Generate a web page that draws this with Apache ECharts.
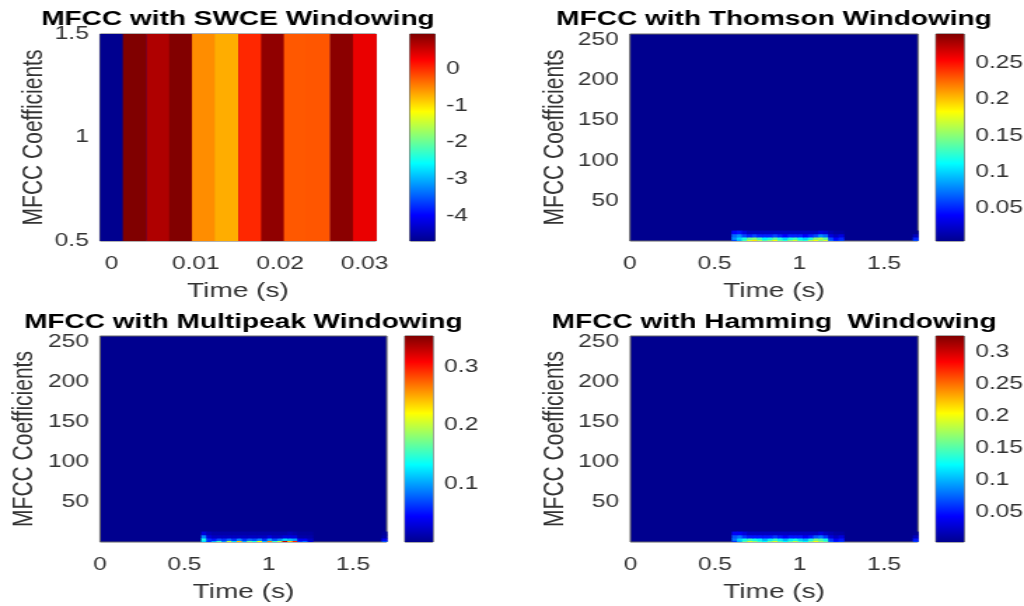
<!DOCTYPE html>
<html lang="en">
<head>
<meta charset="UTF-8">
<title>MFCC windowing</title>
<script src="https://cdn.jsdelivr.net/npm/echarts@6.0.0/dist/echarts.min.js"></script>
<style>
    body { margin: 0; padding: 0; background: #fff; overflow: hidden; }
    /* the reference figure is stretched sideways, so draw narrow and stretch */
    #main { width: 731px; height: 606px; transform-origin: 0 0; transform: scaleX(1.4008); }
</style>
</head>
<body>
<div id="main"></div>
<script>
// SWCE: a single coefficient row, 12 frames
var swceTimes = [0, 0.0027, 0.0055, 0.0082, 0.0109, 0.0136, 0.0164, 0.0191, 0.0218, 0.0245, 0.0273, 0.03];
var swceValues = [-4.68, 0.96, 0.70, 0.95, -0.52, -0.70, 0.04, 0.87, -0.23, -0.22, 0.90, 0.37];
var swceFrameWidth = 0.00273;
var swceLimits = [-4.68, 0.96];
var swceBarTicks = [-4, -3, -2, -1, 0];
var swceTimeTicks = [0, 0.01, 0.02, 0.03];
var swceCoefTicks = [0.5, 1, 1.5];

// other windows: only the frames / low coefficients that are not ~0
var frameTimes = [0.615, 0.645, 0.675, 0.705, 0.735, 0.765, 0.795, 0.825, 0.855, 0.885, 0.915,
    0.945, 0.975, 1.005, 1.035, 1.065, 1.095, 1.125, 1.155, 1.185, 1.215, 1.245, 1.685];
var frameWidth = 0.03;
var coefEdges = [0.5, 2.5, 5.5, 9.5, 13.5];   // coefficient bands 1-2, 3-5, 6-9, 10-13
var coefRange = [0.5, 257.5];
var timeRange = [0, 1.7];
var timeTicks = [0, 0.5, 1, 1.5];
var coefTicks = [50, 100, 150, 200, 250];

var thomsonBand1 = [0.06, 0.09, 0.13, 0.17, 0.19, 0.16, 0.13, 0.15, 0.18, 0.14, 0.12, 0.15, 0.17, 0.13, 0.12, 0.16, 0.18, 0.15, 0.17, 0.07, 0.05, 0.06, 0.06];
var thomsonBand2 = [0.08, 0.10, 0.12, 0.14, 0.15, 0.13, 0.11, 0.12, 0.14, 0.12, 0.10, 0.12, 0.13, 0.11, 0.10, 0.12, 0.15, 0.16, 0.14, 0.06, 0.04, 0.05, 0.05];
var thomsonBand3 = [0.07, 0.08, 0.06, 0.05, 0.06, 0.05, 0.05, 0.05, 0.06, 0.05, 0.04, 0.05, 0.05, 0.05, 0.04, 0.05, 0.06, 0.08, 0.07, 0.03, 0.02, 0.03, 0.02];
var thomsonBand4 = [0.04, 0.045, 0.03, 0.02, 0.02, 0.02, 0.02, 0.02, 0.02, 0.02, 0.02, 0.02, 0.02, 0.02, 0.02, 0.02, 0.02, 0.03, 0.025, 0.015, 0.01, 0.01, 0.005];
var thomsonLimits = [0.005, 0.29];
var thomsonBarTicks = [0.05, 0.1, 0.15, 0.2, 0.25];

var multipeakBand1 = [0.12, 0.06, 0.10, 0.16, 0.09, 0.20, 0.12, 0.24, 0.10, 0.18, 0.14, 0.22, 0.11, 0.26, 0.15, 0.20, 0.33, 0.24, 0.30, 0.06, 0.08, 0.03, 0.07];
var multipeakBand2 = [0.14, 0.06, 0.05, 0.07, 0.06, 0.08, 0.06, 0.09, 0.06, 0.08, 0.07, 0.09, 0.06, 0.10, 0.07, 0.09, 0.12, 0.11, 0.10, 0.04, 0.04, 0.02, 0.04];
var multipeakBand3 = [0.09, 0.03, 0.02, 0.02, 0.02, 0.02, 0.02, 0.02, 0.02, 0.02, 0.02, 0.02, 0.02, 0.03, 0.02, 0.02, 0.03, 0.03, 0.03, 0.01, 0.01, 0.01, 0.01];
var multipeakBand4 = [0.03, 0.015, 0.01, 0.01, 0.01, 0.01, 0.01, 0.01, 0.01, 0.01, 0.01, 0.01, 0.01, 0.01, 0.01, 0.01, 0.01, 0.015, 0.01, 0.005, 0.005, 0.005, 0.005];
var multipeakLimits = [0, 0.354];
var multipeakBarTicks = [0.1, 0.2, 0.3];

var hammingBand1 = [0.06, 0.10, 0.15, 0.19, 0.17, 0.14, 0.12, 0.16, 0.19, 0.15, 0.12, 0.15, 0.18, 0.14, 0.12, 0.16, 0.20, 0.17, 0.15, 0.07, 0.05, 0.06, 0.06];
var hammingBand2 = [0.08, 0.11, 0.13, 0.14, 0.13, 0.12, 0.10, 0.12, 0.14, 0.12, 0.10, 0.12, 0.13, 0.11, 0.10, 0.13, 0.16, 0.15, 0.13, 0.06, 0.04, 0.05, 0.05];
var hammingBand3 = [0.07, 0.08, 0.06, 0.05, 0.05, 0.05, 0.05, 0.05, 0.06, 0.05, 0.04, 0.05, 0.05, 0.05, 0.04, 0.05, 0.07, 0.08, 0.06, 0.03, 0.02, 0.03, 0.02];
var hammingBand4 = [0.04, 0.04, 0.03, 0.02, 0.02, 0.02, 0.02, 0.02, 0.02, 0.02, 0.02, 0.02, 0.02, 0.02, 0.02, 0.02, 0.02, 0.03, 0.02, 0.015, 0.01, 0.01, 0.005];
var hammingLimits = [0.003, 0.325];
var hammingBarTicks = [0.05, 0.1, 0.15, 0.2, 0.25, 0.3];

var titles = ['MFCC with SWCE Windowing', 'MFCC with Thomson Windowing',
    'MFCC with Multipeak Windowing', 'MFCC with Hamming  Windowing'];

var jet = ['#00008f', '#0000ff', '#0080ff', '#00ffff', '#80ff80', '#ffff00', '#ff8000', '#ff0000', '#800000'];
var font = 'Liberation Sans, Arial, Helvetica, sans-serif';

// cell = [t0, t1, c0, c1, value]
function swceCells() {
    return swceTimes.map(function (t, i) {
        return [t - swceFrameWidth / 2, t + swceFrameWidth / 2, 0.5, 1.5, swceValues[i]];
    });
}
function bandCells(bands) {
    var cells = [];
    bands.forEach(function (row, b) {
        row.forEach(function (v, i) {
            cells.push([frameTimes[i] - frameWidth / 2, frameTimes[i] + frameWidth / 2, coefEdges[b], coefEdges[b + 1], v]);
        });
    });
    return cells;
}

function renderCell(params, api) {
    var a = api.coord([api.value(0), api.value(3)]);
    var b = api.coord([api.value(1), api.value(2)]);
    return {
        type: 'rect',
        shape: { x: a[0], y: a[1], width: b[0] - a[0] + 0.5, height: b[1] - a[1] + 0.5 },
        style: { fill: api.visual('color') }
    };
}
function renderBar(params, api) {
    var a = api.coord([0, api.value(1)]);
    var b = api.coord([1, api.value(0)]);
    var stops = jet.map(function (c, i) { return { offset: i / (jet.length - 1), color: c }; });
    return {
        type: 'rect',
        shape: { x: a[0], y: a[1], width: b[0] - a[0], height: b[1] - a[1] },
        style: { fill: new echarts.graphic.LinearGradient(0, 1, 0, 0, stops) }
    };
}

function fmt(v) { return String(Math.round(v * 10000) / 10000); }

// plot boxes (in the unstretched 731px wide frame)
var panels = [
    { left: 71.4, top: 34, width: 197, height: 207, bar: 292.7, barW: 17.8, yGap: 37 },
    { left: 449.7, top: 34, width: 205.6, height: 207, bar: 668.2, barW: 20, yGap: 43 },
    { left: 71.4, top: 336, width: 204.7, height: 206, bar: 289.1, barW: 20, yGap: 44 },
    { left: 450, top: 336, width: 205.3, height: 206, bar: 668.2, barW: 20, yGap: 43 }
];
var limits = [swceLimits, thomsonLimits, multipeakLimits, hammingLimits];
var barTicks = [swceBarTicks, thomsonBarTicks, multipeakBarTicks, hammingBarTicks];
var cellData = [
    swceCells(),
    bandCells([thomsonBand1, thomsonBand2, thomsonBand3, thomsonBand4]),
    bandCells([multipeakBand1, multipeakBand2, multipeakBand3, multipeakBand4]),
    bandCells([hammingBand1, hammingBand2, hammingBand3, hammingBand4])
];

var grid = [], xAxis = [], yAxis = [], series = [], visualMap = [], title = [];
panels.forEach(function (p, k) {
    var g = k * 2;
    grid.push({ left: p.left, top: p.top, width: p.width, height: p.height, show: true,
        backgroundColor: jet[0], borderColor: '#666', borderWidth: 1, outerBoundsMode: 'none' });
    grid.push({ left: p.bar, top: p.top, width: p.barW, height: p.height, show: true,
        backgroundColor: 'transparent', borderColor: '#555', borderWidth: 1, outerBoundsMode: 'none' });

    var tMin = k === 0 ? swceTimes[0] - swceFrameWidth / 2 : timeRange[0];
    var tMax = k === 0 ? swceTimes[swceTimes.length - 1] + swceFrameWidth / 2 : timeRange[1];
    xAxis.push({
        type: 'value', gridIndex: g, min: tMin, max: tMax,
        name: 'Time (s)', nameLocation: 'middle', nameGap: 40,
        nameTextStyle: { fontSize: 20, color: '#333', fontFamily: font },
        axisLine: { show: false }, axisTick: { show: false }, splitLine: { show: false },
        axisLabel: { customValues: k === 0 ? swceTimeTicks : timeTicks, formatter: fmt,
            fontSize: 17.5, color: '#333', fontFamily: font, margin: 14 }
    });
    yAxis.push({
        type: 'value', gridIndex: g,
        min: k === 0 ? 0.5 : coefRange[0], max: k === 0 ? 1.5 : coefRange[1],
        name: 'MFCC Coefficients', nameLocation: 'middle', nameGap: p.yGap,
        nameTextStyle: { fontSize: 21, color: '#333', fontFamily: font },
        axisLine: { show: false }, axisTick: { show: false }, splitLine: { show: false },
        axisLabel: { customValues: k === 0 ? swceCoefTicks : coefTicks, formatter: fmt,
            fontSize: 17.5, color: '#333', fontFamily: font, margin: 8 }
    });
    xAxis.push({ type: 'value', gridIndex: g + 1, min: 0, max: 1, show: false });
    yAxis.push({
        type: 'value', gridIndex: g + 1, position: 'right', min: limits[k][0], max: limits[k][1],
        axisLine: { show: false }, axisTick: { show: false }, splitLine: { show: false },
        axisLabel: { customValues: barTicks[k], formatter: fmt,
            fontSize: 17.5, color: '#333', fontFamily: font, margin: 8 }
    });

    series.push({ type: 'custom', xAxisIndex: g, yAxisIndex: g, clip: true, silent: true,
        renderItem: renderCell, data: cellData[k] });
    series.push({ type: 'custom', xAxisIndex: g + 1, yAxisIndex: g + 1, silent: true,
        renderItem: renderBar, data: [limits[k]] });

    visualMap.push({ type: 'continuous', show: false, seriesIndex: g, dimension: 4,
        min: limits[k][0], max: limits[k][1], inRange: { color: jet } });

    title.push({ text: titles[k], left: p.left + p.width / 2, top: k < 2 ? 9 : 312,
        textAlign: 'center', padding: 0,
        textStyle: { fontSize: 20, fontWeight: 'bold', color: '#000', fontFamily: font } });
});

var myChart = echarts.init(document.getElementById('main'));
myChart.setOption({
    animation: false,
    backgroundColor: '#fff',
    title: title,
    grid: grid,
    xAxis: xAxis,
    yAxis: yAxis,
    visualMap: visualMap,
    series: series
});
</script>
</body>
</html>
